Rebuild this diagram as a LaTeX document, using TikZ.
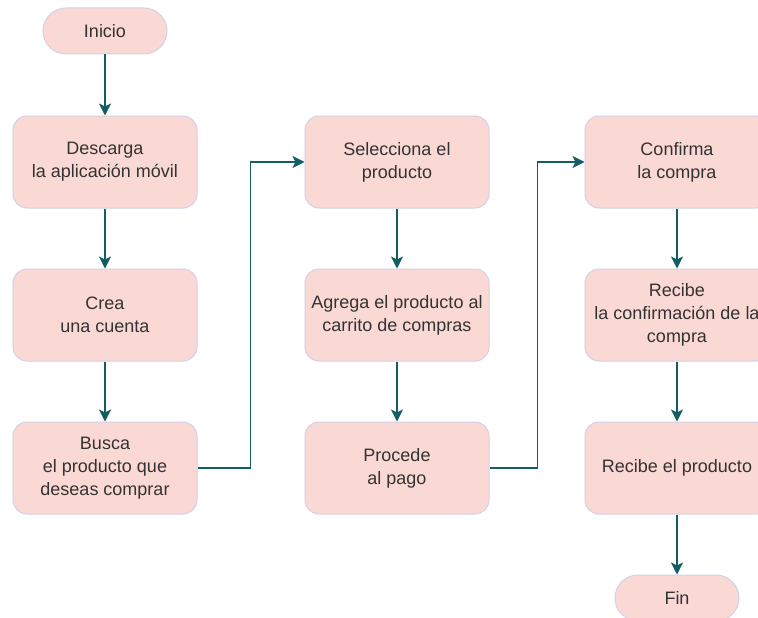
\documentclass[tikz,border=0pt]{standalone}
\usepackage{fontspec}
\setmainfont{Liberation Sans}
\usetikzlibrary{arrows.meta}
\definecolor{cajafondo}{HTML}{FAD9D5}
\definecolor{cajaborde}{HTML}{D3D1E6}
\definecolor{flecha}{HTML}{125E63}
\definecolor{texto}{HTML}{333333}
\begin{document}
\begin{tikzpicture}[x=1pt, y=-1pt,
    paso/.style={draw=cajaborde, fill=cajafondo, line width=1pt, rounded corners=14pt,
        minimum width=184pt, minimum height=92pt, align=center, text=texto,
        font=\fontsize{18}{23}\selectfont, inner sep=0pt},
    terminal/.style={draw=cajaborde, fill=cajafondo, line width=1pt, rounded corners=23pt,
        minimum width=124pt, minimum height=46pt, text=texto,
        font=\fontsize{18}{23}\selectfont, inner sep=0pt},
    flujo/.style={draw=flecha, line width=1.5pt, -{Stealth[length=12pt,width=12pt,inset=3pt]}}]
                \clip (0, 0) rectangle (758, 618);
                \fill[white] (0, 0) rectangle (758, 618);

                % primera columna
                \node[terminal] (inicio) at (105, 31) {Inicio};
                \node[paso] (descarga) at (105, 162) {Descarga\\ la aplicación móvil};
                \node[paso] (crea) at (105, 315) {Crea\\ una cuenta};
                \node[paso] (busca) at (105, 468) {Busca\\ el producto que\\ deseas comprar};

                % segunda columna
                \node[paso] (selecciona) at (397, 162) {Selecciona el\\ producto};
                \node[paso] (agrega) at (397, 315) {Agrega el producto al\\ carrito de compras};
                \node[paso] (procede) at (397, 468) {Procede\\ al pago};

                % tercera columna
                \node[paso] (confirma) at (677, 162) {Confirma\\ la compra};
                \node[paso] (confirmacion) at (677, 315) {Recibe\\ la confirmación de la\\ compra};
                \node[paso] (recibe) at (677, 468) {Recibe el producto};
                \node[terminal] (fin) at (677, 598) {Fin};

                \draw[flujo] (inicio) -- (descarga);
                \draw[flujo] (descarga) -- (crea);
                \draw[flujo] (crea) -- (busca);
                \draw[flujo] (busca.east) -- ++(53, 0) |- (selecciona.west);
                \draw[flujo] (selecciona) -- (agrega);
                \draw[flujo] (agrega) -- (procede);
                \draw[flujo] (procede.east) -- ++(48, 0) |- (confirma.west);
                \draw[flujo] (confirma) -- (confirmacion);
                \draw[flujo] (confirmacion) -- (recibe);
                \draw[flujo] (recibe) -- (fin);
\end{tikzpicture}
\end{document}
